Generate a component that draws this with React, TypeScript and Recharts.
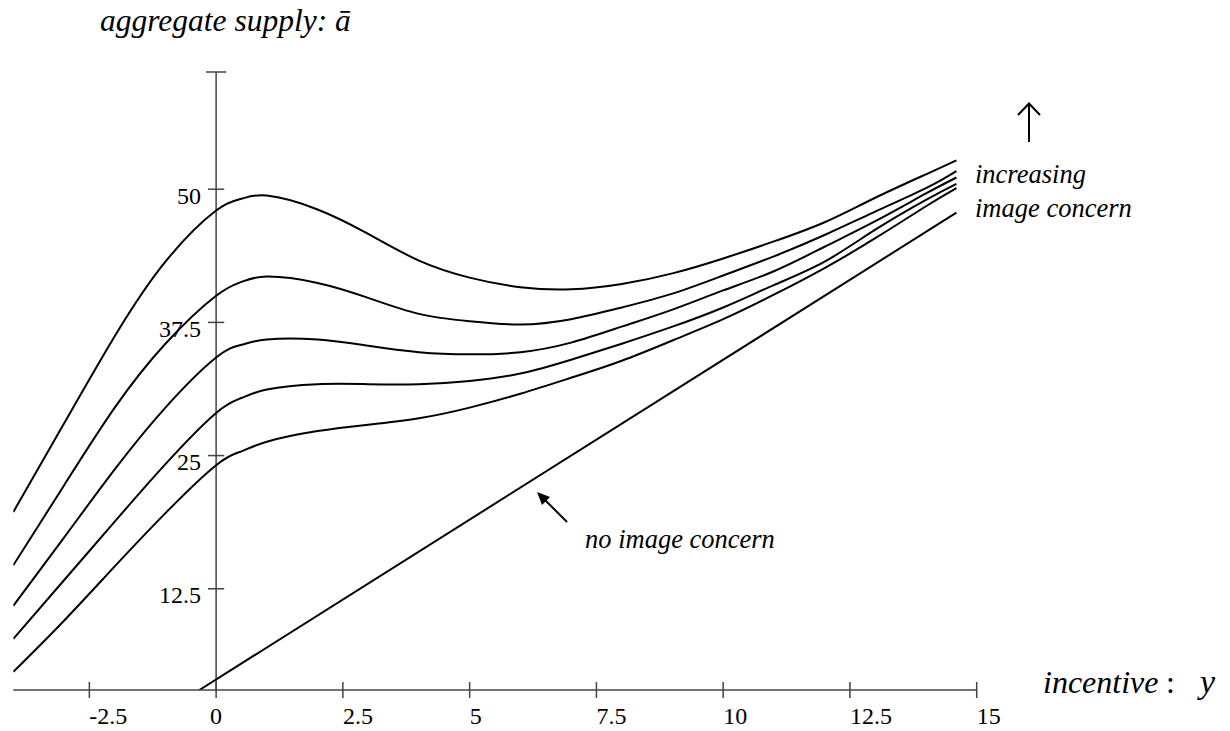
import React from 'react';
import { LineChart, Line, XAxis, YAxis, ReferenceLine } from 'recharts';

const curveX = [-4, -3, -2, -1, 0, 0.5, 1, 2, 3, 4, 5, 6, 7, 8, 9, 10, 11, 12, 13, 14, 14.6];

// aggregate supply, from strongest image concern (top) down
const supply1 = [19.7, 28.0, 36.2, 43.2, 48.0, 49.1, 49.4, 48.1, 45.8, 43.3, 41.7, 40.8, 40.6, 41.1, 42.1, 43.5, 45.1, 46.9, 49.2, 51.4, 52.7];
const supply2 = [14.7, 22.2, 29.5, 35.5, 40.0, 41.3, 41.8, 41.2, 39.8, 38.3, 37.6, 37.3, 37.8, 38.9, 40.2, 41.9, 43.7, 45.7, 47.9, 50.1, 51.7];
const supply3 = [10.9, 17.3, 23.7, 29.5, 34.2, 35.4, 35.9, 35.9, 35.3, 34.7, 34.5, 34.7, 35.6, 37.1, 38.7, 40.5, 42.3, 44.6, 47.0, 49.6, 51.1];
const supply4 = [7.8, 13.3, 18.8, 24.2, 29.0, 30.4, 31.2, 31.7, 31.7, 31.7, 32.0, 32.7, 34.0, 35.5, 37.1, 38.9, 41.0, 43.2, 46.2, 49.0, 50.5];
const supply5 = [4.7, 9.5, 14.6, 19.6, 24.1, 25.4, 26.3, 27.3, 27.9, 28.5, 29.5, 30.8, 32.3, 33.9, 35.8, 37.8, 40.1, 42.6, 45.4, 48.4, 50.1];

// no image concern: straight line
const plainX = [-0.33, 14.6];
const plainSupply = [3.0, 47.8];

const xTicks = [-2.5, 0, 2.5, 5, 7.5, 10, 12.5, 15];
const yTicks = [12.5, 25, 37.5, 50];

const curves = [supply1, supply2, supply3, supply4, supply5];

const toPoints = (xs: number[], ys: number[]) => xs.map((x, i) => ({ x, a: ys[i] }));

const serif = 'Liberation Serif, Tinos, Times New Roman, serif';
const axisColor = '#444';
const txt = { fontFamily: serif };
const itxt = { fontFamily: serif, fontStyle: 'italic' as const };

// x ticks cross the axis, labels sit to the right of the tick
const XTick = (props: any) => {
  const { x, y, payload } = props;
  const v = payload.value;
  return (
    <g>
      <line x1={x} x2={x} y1={y - 8} y2={y + 8} stroke={axisColor} strokeWidth={1.5} />
      <text x={x} y={y + 34} textAnchor={v === 0 ? 'middle' : 'start'} style={txt} fontSize={24} fill="#000">
        {v}
      </text>
    </g>
  );
};

const yLabel = (props: any, v: number) => {
  const vb = props.viewBox || {};
  return (
    <text x={vb.x - 7} y={vb.y + 14.5} textAnchor="end" style={txt} fontSize={24} fill="#000">
      {v}
    </text>
  );
};

export default function App() {
  return (
    <div style={{ position: 'absolute', left: 0, top: 0, width: 1230, height: 731, background: '#fff' }}>
      <LineChart width={1230} height={731} margin={{ top: 72, right: 253.3, bottom: 0, left: 13.3 }}>
        <XAxis
          dataKey="x"
          type="number"
          domain={[-4, 15]}
          ticks={xTicks}
          interval={0}
          allowDataOverflow
          tickSize={0}
          tickMargin={0}
          tickLine={false}
          axisLine={{ stroke: axisColor, strokeWidth: 1.5 }}
          tick={(p: any) => <XTick {...p} />}
          height={41}
        />
        <YAxis type="number" domain={[3, 61]} allowDataOverflow hide width={0} />

        {/* vertical axis drawn at incentive = 0 */}
        <ReferenceLine segment={[{ x: 0, y: 3 }, { x: 0, y: 61 }]} stroke={axisColor} strokeWidth={1.5} />
        <ReferenceLine segment={[{ x: -0.2, y: 61 }, { x: 0.2, y: 61 }]} stroke={axisColor} strokeWidth={1.5} />
        {yTicks.map((v) => (
          <ReferenceLine
            key={`yt-${v}`}
            segment={[{ x: -0.16, y: v }, { x: 0.16, y: v }]}
            stroke={axisColor}
            strokeWidth={1.5}
            label={(p: any) => yLabel(p, v)}
          />
        ))}

        {curves.map((c, i) => (
          <Line
            key={`curve-${i}`}
            data={toPoints(curveX, c)}
            dataKey="a"
            type="natural"
            stroke="#000"
            strokeWidth={2}
            dot={false}
            activeDot={false}
            isAnimationActive={false}
          />
        ))}
        <Line
          data={toPoints(plainX, plainSupply)}
          dataKey="a"
          type="linear"
          stroke="#000"
          strokeWidth={2}
          dot={false}
          activeDot={false}
          isAnimationActive={false}
        />
      </LineChart>

      {/* annotations */}
      <svg width={1230} height={731} style={{ position: 'absolute', left: 0, top: 0, pointerEvents: 'none' }}>
        <text x={100} y={31} style={itxt} fontSize={31.5} fill="#000">
          aggregate supply: ā
        </text>
        <text x={1043} y={693} style={itxt} fontSize={32} fill="#000">
          incentive
        </text>
        <text x={1166} y={693} style={txt} fontSize={32} fill="#000">
          :
        </text>
        <text x={1200} y={693} style={itxt} fontSize={34} fill="#000">
          y
        </text>
        <text x={975} y={183} style={itxt} fontSize={26.5} fill="#000">
          increasing
        </text>
        <text x={975} y={217} style={itxt} fontSize={26.5} fill="#000">
          image concern
        </text>
        <text x={585} y={548} style={itxt} fontSize={26.5} fill="#000">
          no image concern
        </text>

        {/* up arrow */}
        <line x1={1029} y1={142} x2={1029} y2={104} stroke="#000" strokeWidth={2} />
        <polyline points="1018,115 1029,103.5 1040,115" fill="none" stroke="#000" strokeWidth={2} />

        {/* arrow pointing at the straight line */}
        <line x1={567} y1={522} x2={545} y2={500} stroke="#000" strokeWidth={2} />
        <polygon points="537,492 550,497 542,505" fill="#000" />
      </svg>
    </div>
  );
}
